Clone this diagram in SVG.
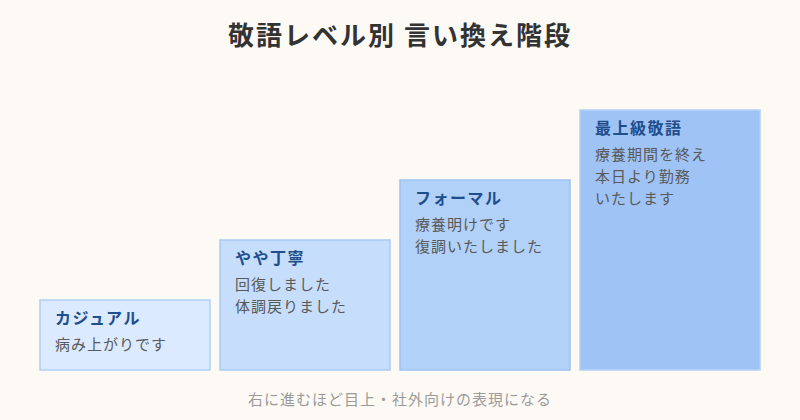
<svg xmlns="http://www.w3.org/2000/svg" width="800" height="420" viewBox="0 0 800 420">
<style>
.bg{fill:#fdfaf5}
.title{font-family:"Noto Sans CJK JP","Noto Sans",sans-serif;font-size:26px;font-weight:bold;fill:#333333;letter-spacing:2px}
.box{stroke-width:1.5}
.lbl{font-family:"Noto Sans CJK JP","Noto Sans",sans-serif;font-size:16px;font-weight:bold;fill:#1f4e8c;letter-spacing:1.5px}
.txt{font-family:"Noto Sans CJK JP","Noto Sans",sans-serif;font-size:15px;fill:#595959;letter-spacing:1px}
.foot{font-family:"Noto Sans CJK JP","Noto Sans",sans-serif;font-size:15px;fill:#9a9a9a;letter-spacing:1px}
</style>
<rect class="bg" x="0" y="0" width="800" height="420"/>
<text class="title" x="400" y="45" text-anchor="middle">敬語レベル別 言い換え階段</text>
<g id="casual">
<rect class="box" x="40" y="300" width="170" height="70" fill="#dbeafe" stroke="#b0cff3"/>
<text class="lbl" x="55" y="324">カジュアル</text>
<text class="txt" x="55" y="350">病み上がりです</text>
</g>
<g id="polite">
<rect class="box" x="220" y="240" width="170" height="130" fill="#c6defb" stroke="#a9caf2"/>
<text class="lbl" x="235" y="264">やや丁寧</text>
<text class="txt" x="235" y="290">回復しました</text>
<text class="txt" x="235" y="312">体調戻りました</text>
</g>
<g id="formal">
<rect class="box" x="400" y="180" width="170" height="190" fill="#b2d1f8" stroke="#9fc2f0"/>
<text class="lbl" x="415" y="204">フォーマル</text>
<text class="txt" x="415" y="230">療養明けです</text>
<text class="txt" x="415" y="252">復調いたしました</text>
</g>
<g id="highest">
<rect class="box" x="580" y="110" width="180" height="260" fill="#9fc3f5" stroke="#b3d0f6"/>
<text class="lbl" x="595" y="134">最上級敬語</text>
<text class="txt" x="595" y="160">療養期間を終え</text>
<text class="txt" x="595" y="182">本日より勤務</text>
<text class="txt" x="595" y="204">いたします</text>
</g>
<g id="connectors"></g>
<text class="foot" x="400" y="405" text-anchor="middle">右に進むほど目上・社外向けの表現になる</text>
</svg>
